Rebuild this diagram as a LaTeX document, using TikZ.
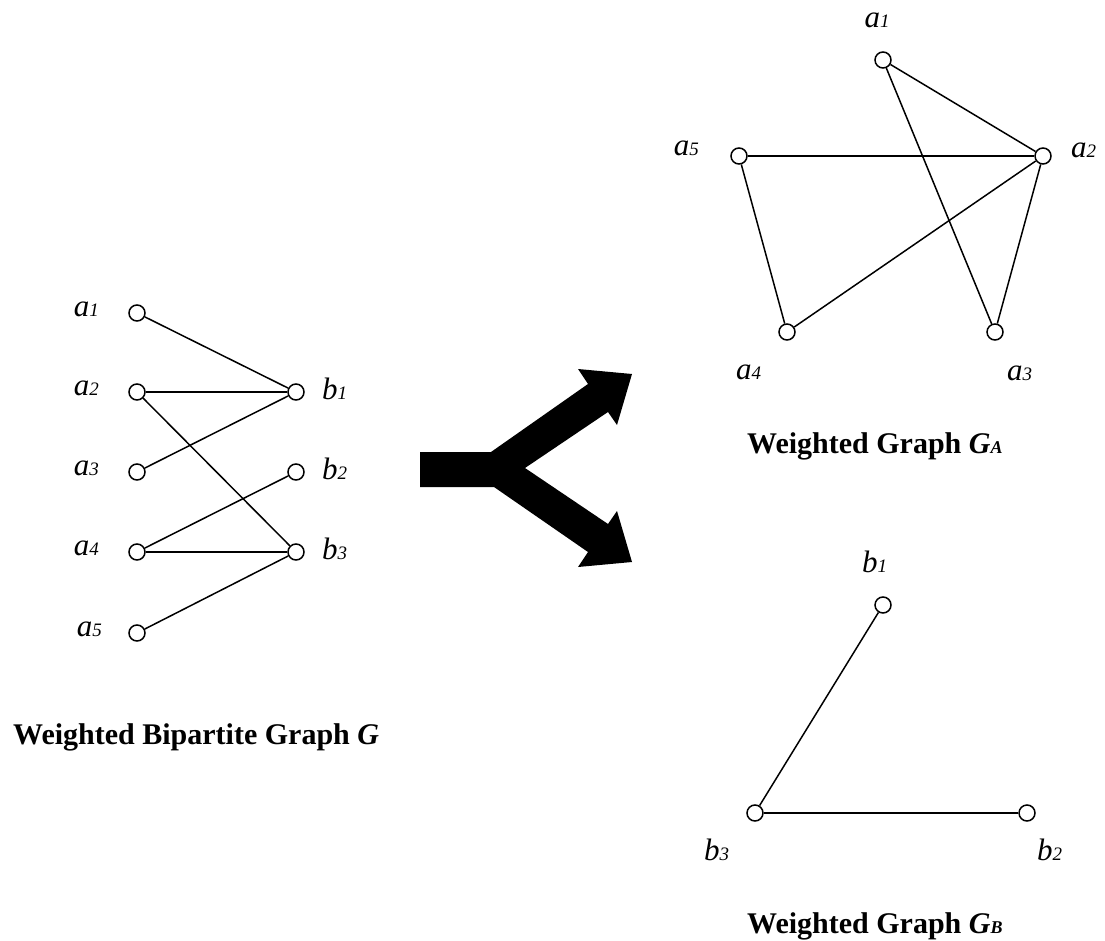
\documentclass[tikz,border=0pt]{standalone}
\usepackage{fontspec}
\setmainfont{Liberation Serif}
\newcommand\vlab[2]{{\fontsize{31}{34}\selectfont\itshape #1}{\fontsize{19}{20}\selectfont\itshape #2}}
\newcommand\gtitle[2]{{\fontsize{30}{34}\selectfont\bfseries #1}{\fontsize{18}{20}\selectfont\bfseries\itshape #2}}
\begin{document}
\begin{tikzpicture}[x=1pt,y=-1pt,
  vtx/.style={circle,draw,line width=1.5pt,minimum size=16pt,inner sep=0pt,fill=white},
  edge/.style={line width=1.5pt},
  lab/.style={inner sep=0pt}]
\useasboundingbox (0,0) rectangle (1105,941);
% Bipartite graph G
\node[vtx] (a1) at (137,313) {};
\node[vtx] (a2) at (137,392) {};
\node[vtx] (a3) at (137,472) {};
\node[vtx] (a4) at (137,552) {};
\node[vtx] (a5) at (137,633) {};
\node[vtx] (b1) at (296,392) {};
\node[vtx] (b2) at (296,472) {};
\node[vtx] (b3) at (296,552) {};
\draw[edge] (a1) -- (b1);
\draw[edge] (a2) -- (b1);
\draw[edge] (a3) -- (b1);
\draw[edge] (a2) -- (b3);
\draw[edge] (a4) -- (b2);
\draw[edge] (a4) -- (b3);
\draw[edge] (a5) -- (b3);
\node[lab,anchor=base east] (la1) at (99,316) {\vlab{a}{1}};
\node[lab,anchor=base east] (la2) at (99,395) {\vlab{a}{2}};
\node[lab,anchor=base east] (la3) at (99,475) {\vlab{a}{3}};
\node[lab,anchor=base east] (la4) at (99,555) {\vlab{a}{4}};
\node[lab,anchor=base east] (la5) at (102,636) {\vlab{a}{5}};
\node[lab,anchor=base west] (lb1) at (322,399) {\vlab{b}{1}};
\node[lab,anchor=base west] (lb2) at (322,479) {\vlab{b}{2}};
\node[lab,anchor=base west] (lb3) at (322,559) {\vlab{b}{3}};
\node[lab,anchor=base west] (tG) at (13,744) {\gtitle{Weighted Bipartite Graph \textit{G}}{}};
% Big split arrow
\fill[black] (420,452) -- (491,452) -- (588,384) -- (578,369) -- (632,374)
  -- (617,425) -- (608,412) -- (525,468) -- (608,524) -- (617,511)
  -- (632,562) -- (578,567) -- (588,552) -- (494,487) -- (420,487) -- cycle;
% Graph GA
\node[vtx] (A1) at (883,60) {};
\node[vtx] (A5) at (739,156) {};
\node[vtx] (A2) at (1043,156) {};
\node[vtx] (A4) at (787,332) {};
\node[vtx] (A3) at (995,332) {};
\draw[edge] (A1) -- (A2);
\draw[edge] (A1) -- (A3);
\draw[edge] (A5) -- (A2);
\draw[edge] (A5) -- (A4);
\draw[edge] (A4) -- (A2);
\draw[edge] (A3) -- (A2);
\node[lab,anchor=base] (lA1) at (877,28) {\vlab{a}{1}};
\node[lab,anchor=base east] (lA5) at (699,156) {\vlab{a}{5}};
\node[lab,anchor=base west] (lA2) at (1071,158) {\vlab{a}{2}};
\node[lab,anchor=base west] (lA4) at (736,379) {\vlab{a}{4}};
\node[lab,anchor=base west] (lA3) at (1007,380) {\vlab{a}{3}};
\node[lab,anchor=base west] (tA) at (747,453) {\gtitle{Weighted Graph \textit{G}}{A}};
% Graph GB
\node[vtx] (B1) at (883,605) {};
\node[vtx] (B3) at (755,813) {};
\node[vtx] (B2) at (1027,813) {};
\draw[edge] (B3) -- (B1);
\draw[edge] (B3) -- (B2);
\node[lab,anchor=base west] (lB1) at (862,572) {\vlab{b}{1}};
\node[lab,anchor=base west] (lB3) at (704,860) {\vlab{b}{3}};
\node[lab,anchor=base west] (lB2) at (1037,860) {\vlab{b}{2}};
\node[lab,anchor=base west] (tB) at (747,933) {\gtitle{Weighted Graph \textit{G}}{B}};
\end{tikzpicture}
\end{document}
